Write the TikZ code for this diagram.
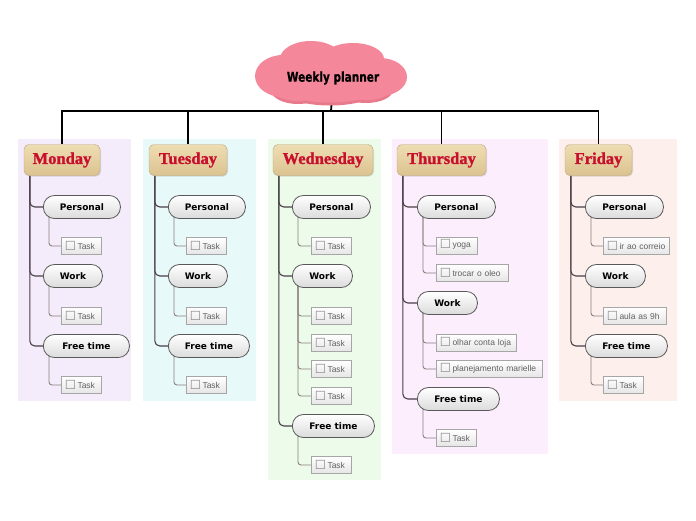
\documentclass[tikz,border=0pt]{standalone}
\usepackage{fontspec}
\setmainfont{DejaVu Sans}
\newfontfamily\catfont{DejaVu Sans}
\newfontfamily\taskfont{Liberation Sans}
\newfontfamily\dayfont[BoldFeatures={FakeBold=1.3}]{Liberation Serif}
\newfontfamily\titlefont[FakeStretch=0.78,BoldFeatures={FakeBold=0.6}]{DejaVu Sans}
\usetikzlibrary{shadows}
\pgfdeclarelayer{bg}
\pgfsetlayers{bg,main}
\definecolor{cloudpink}{HTML}{F4889A}
\definecolor{cloudedge}{HTML}{E97A8C}
\definecolor{daytop}{HTML}{EEDDB3}
\definecolor{daybot}{HTML}{DCC390}
\definecolor{dayred}{HTML}{C8102E}
\definecolor{bgmon}{HTML}{F4ECFA}
\definecolor{bgtue}{HTML}{E8F9F9}
\definecolor{bgwed}{HTML}{ECFBEA}
\definecolor{bgthu}{HTML}{FCEEFC}
\definecolor{bgfri}{HTML}{FDEFEB}
\definecolor{trunkcol}{HTML}{4A3F48}
\definecolor{stubcol}{HTML}{8C7F80}
\newcommand\chk{{\catfont\fontsize{12.5}{11}\selectfont\color{black!45}\raisebox{-1.4pt}[0pt][0pt]{☐}}\hspace{1.5pt}}
\begin{document}
\begin{tikzpicture}[x=1pt,y=-1pt,
  daybox/.style={rounded corners=5pt, top color=daytop, bottom color=daybot, draw=daybot!85!black, line width=0.4pt,
    minimum height=31pt, minimum width=#1, inner sep=0pt, font=\dayfont\bfseries\fontsize{16.5}{18}\selectfont, text=dayred,
    drop shadow={opacity=0.25, shadow xshift=1pt, shadow yshift=-1pt}},
  catbox/.style={draw=black!65, line width=0.8pt, rounded corners=11pt, top color=white, bottom color=black!14,
    minimum height=23pt, minimum width=#1, inner sep=0pt, anchor=west, font=\catfont\bfseries\fontsize{9}{10}\selectfont},
  taskbox/.style={draw=black!35, line width=0.6pt, top color=white, bottom color=black!10, minimum height=17pt,
    text width=#1, inner xsep=3.5pt, inner ysep=0pt, align=left, anchor=west, font=\taskfont\fontsize{8.5}{10}\selectfont, text=black!62},
  mainline/.style={line width=1.8pt, black},
  trunk/.style={line width=1.1pt, trunkcol, rounded corners=5pt},
  stub/.style={line width=0.9pt, stubcol, rounded corners=3pt}]
\path[use as bounding box] (0,0) rectangle (696,520);
\begin{pgfonlayer}{bg}
\fill[bgmon] (18,139) rectangle (131,401);
\fill[bgtue] (143,139) rectangle (256,401);
\fill[bgwed] (268,139) rectangle (381,480);
\fill[bgthu] (392,139) rectangle (548,454);
\fill[bgfri] (559,139) rectangle (677,401);
\end{pgfonlayer}
% title cloud
\fill[cloudedge] (330,91) ellipse [x radius=46, y radius=14.5];
\fill[cloudedge] (298,90) ellipse [x radius=27, y radius=14];
\fill[cloudedge] (366,90) ellipse [x radius=27, y radius=13];
\fill[cloudpink] (283,76) ellipse [x radius=28, y radius=21];
\fill[cloudpink] (311,59) ellipse [x radius=31, y radius=18];
\fill[cloudpink] (353,59) ellipse [x radius=31, y radius=16];
\fill[cloudpink] (380,77) ellipse [x radius=27, y radius=19];
\fill[cloudpink] (330,89) ellipse [x radius=45, y radius=13.5];
\fill[cloudpink] (298,88) ellipse [x radius=26, y radius=13];
\fill[cloudpink] (366,88) ellipse [x radius=26, y radius=12];
\fill[cloudpink] (332,74) ellipse [x radius=62, y radius=22];
\node[font=\titlefont\bfseries\fontsize{13.5}{15}\selectfont, inner sep=1pt] (title) at (333,78) {Weekly planner};
\coordinate (hub) at (331,111);
% days
\node[daybox=76pt] (mon) at (62,160) {Monday};
\node[daybox=78pt] (tue) at (188,160) {Tuesday};
\node[daybox=100pt] (wed) at (323,160) {Wednesday};
\node[daybox=89pt] (thu) at (441.5,160) {Thursday};
\node[daybox=67pt] (fri) at (598.5,160) {Friday};
% Monday
\node[catbox=77pt] (mp) at (43,207) {Personal};
\node[catbox=59pt] (mw) at (43,276) {Work};
\node[catbox=86pt] (mf) at (43,346) {Free time};
\node[taskbox=33pt] (mpt) at (61,246) {\chk Task};
\node[taskbox=33pt] (mwt) at (61,316) {\chk Task};
\node[taskbox=33pt] (mft) at (61,385) {\chk Task};
% Tuesday
\node[catbox=77pt] (tp) at (168,207) {Personal};
\node[catbox=59pt] (tw) at (168,276) {Work};
\node[catbox=81pt] (tf) at (168,346) {Free time};
\node[taskbox=33pt] (tpt) at (186,246) {\chk Task};
\node[taskbox=33pt] (twt) at (186,316) {\chk Task};
\node[taskbox=33pt] (tft) at (186,385) {\chk Task};
% Wednesday
\node[catbox=78pt] (wp) at (292,207) {Personal};
\node[catbox=60pt] (ww) at (292,276) {Work};
\node[catbox=82pt] (wf) at (292,426) {Free time};
\node[taskbox=33pt] (wpt) at (311,246) {\chk Task};
\node[taskbox=33pt] (wwa) at (311,316) {\chk Task};
\node[taskbox=33pt] (wwb) at (311,343) {\chk Task};
\node[taskbox=33pt] (wwc) at (311,369) {\chk Task};
\node[taskbox=33pt] (wwd) at (311,396) {\chk Task};
\node[taskbox=33pt] (wft) at (311,465) {\chk Task};
% Thursday
\node[catbox=78pt] (hp) at (417,207) {Personal};
\node[catbox=60pt] (hw) at (417,303) {Work};
\node[catbox=82pt] (hf) at (417,399) {Free time};
\node[taskbox=34pt] (hpa) at (436,246) {\chk yoga};
\node[taskbox=65pt] (hpb) at (436,273) {\chk trocar o oleo};
\node[taskbox=73pt] (hwa) at (436,343) {\chk olhar conta loja};
\node[taskbox=99pt] (hwb) at (436,369) {\chk planejamento marielle};
\node[taskbox=33pt] (hft) at (436,438) {\chk Task};
% Friday
\node[catbox=78pt] (fp) at (585,207) {Personal};
\node[catbox=60pt] (fw) at (585,276) {Work};
\node[catbox=82pt] (ff) at (585,346) {Free time};
\node[taskbox=59pt] (fpt) at (603,246) {\chk ir ao correio};
\node[taskbox=56pt] (fwt) at (603,316) {\chk aula as 9h};
\node[taskbox=33pt] (fft) at (603,385) {\chk Task};
\begin{pgfonlayer}{bg}
\draw[mainline] (title.south) -- (hub);
\foreach \d in {mon,tue,wed,thu,fri} \draw[mainline] (hub) -| (\d.north);
\foreach \d/\c in {mon/mp,mon/mw,mon/mf,tue/tp,tue/tw,tue/tf,wed/wp,wed/ww,wed/wf,thu/hp,thu/hw,thu/hf,fri/fp,fri/fw,fri/ff}
  \draw[trunk] ([xshift=6pt]\d.south west) |- (\c.west);
\foreach \c/\t in {mp/mpt,mw/mwt,mf/mft,tp/tpt,tw/twt,tf/tft,wp/wpt,ww/wwa,ww/wwb,ww/wwc,ww/wwd,wf/wft,hp/hpa,hp/hpb,hw/hwa,hw/hwb,hf/hft,fp/fpt,fw/fwt,ff/fft}
  \draw[stub] ([xshift=6pt,yshift=3pt]\c.south west) |- (\t.west);
\end{pgfonlayer}
\end{tikzpicture}
\end{document}
